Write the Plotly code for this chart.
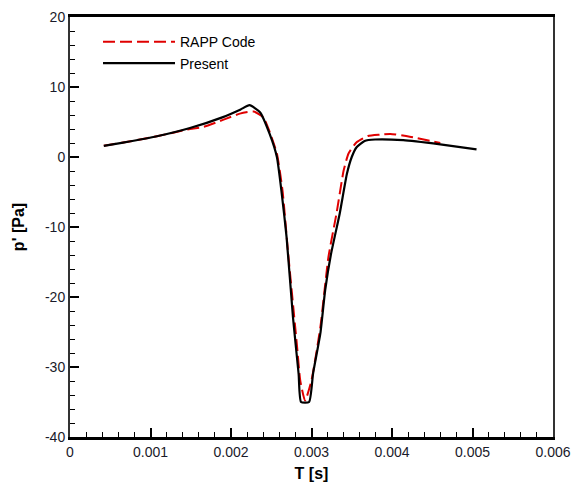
import plotly.graph_objects as go

# Present (black solid)
t_present = [0.00042, 0.00066, 0.00108, 0.00149, 0.0019, 0.00212, 0.00223, 0.00236,
             0.00248, 0.00257, 0.00263, 0.00269, 0.00277, 0.00284, 0.00287, 0.00297,
             0.00302, 0.00311, 0.00317, 0.00324, 0.00335, 0.00344, 0.0035, 0.00356,
             0.00366, 0.00379, 0.00414, 0.0046, 0.00505]
p_present = [1.6, 2.06, 2.96, 4.14, 5.7, 6.8, 7.4, 6.4,
             3.3, 0.0, -5.2, -11.4, -22.9, -31.0, -35.0, -35.0,
             -30.9, -25.2, -19.0, -14.0, -8.1, -2.4, 0.0, 1.4,
             2.3, 2.5, 2.4, 1.8, 1.1]

# RAPP Code (red dashed)
t_rapp = [0.00042, 0.00066, 0.00108, 0.00149, 0.00166, 0.0019, 0.00211, 0.00228,
          0.0024, 0.00248, 0.00257, 0.00264, 0.00271, 0.00282, 0.00286, 0.00292,
          0.003, 0.00311, 0.00321, 0.00331, 0.0034, 0.00346, 0.00356, 0.0037,
          0.00385, 0.00398, 0.00422, 0.0046]
p_rapp = [1.6, 2.06, 2.96, 4.0, 4.3, 5.3, 6.2, 6.5,
          5.7, 3.6, 0.5, -4.8, -13.8, -27.0, -31.9, -34.8,
          -31.9, -24.3, -14.3, -8.1, -1.9, 0.5, 2.1, 3.0,
          3.2, 3.3, 2.9, 2.0]

x_ticks = [0, 0.001, 0.002, 0.003, 0.004, 0.005, 0.006]
x_ticklabels = ["0", "0.001", "0.002", "0.003", "0.004", "0.005", "0.006"]
y_ticks = [-40, -30, -20, -10, 0, 10, 20]
y_ticklabels = ["-40", "-30", "-20", "-10", "0", "10", "20"]

fig = go.Figure()
fig.add_trace(go.Scatter(x=t_rapp, y=p_rapp, mode="lines", name="RAPP Code",
                         line=dict(color="#e00000", width=2, dash="12px,5px",
                                   shape="spline", smoothing=0.5)))
fig.add_trace(go.Scatter(x=t_present, y=p_present, mode="lines", name="Present",
                         line=dict(color="black", width=2.2, shape="spline", smoothing=0.5)))

font_family = "Liberation Sans, Arial, sans-serif"
fig.update_layout(
    width=573, height=487,
    margin=dict(l=70, r=20, t=17, b=50),
    plot_bgcolor="white", paper_bgcolor="white",
    font=dict(family=font_family, size=14, color="#1a1a2a"),
    showlegend=True,
    legend=dict(x=0.058, y=0.978, xanchor="left", yanchor="top",
                bgcolor="rgba(0,0,0,0)", font=dict(size=14, color="black"),
                tracegroupgap=0, itemwidth=72),
    xaxis=dict(range=[0, 0.006], tickvals=x_ticks, ticktext=x_ticklabels,
               ticks="inside", ticklen=9, tickwidth=1.5, tickcolor="black",
               minor=dict(ticks="inside", ticklen=5, dtick=0.0002, tickcolor="black", tickwidth=1.2),
               showline=True, linecolor="black", linewidth=3, mirror=True,
               showgrid=False, zeroline=False, automargin=False,
               title=dict(text="<b>T [s]</b>", font=dict(size=16, color="black"), standoff=10)),
    yaxis=dict(range=[-40, 20], tickvals=y_ticks, ticktext=y_ticklabels,
               ticks="inside", ticklen=9, tickwidth=1.5, tickcolor="black",
               minor=dict(ticks="inside", ticklen=5, dtick=2, tickcolor="black", tickwidth=1.2),
               showline=True, linecolor="#333333", linewidth=2, mirror=True,
               showgrid=False, zeroline=False, automargin=False,
               title=dict(text="<b>p' [Pa]</b>", font=dict(size=16, color="black"), standoff=16)),
)

fig.write_html("out.html")
